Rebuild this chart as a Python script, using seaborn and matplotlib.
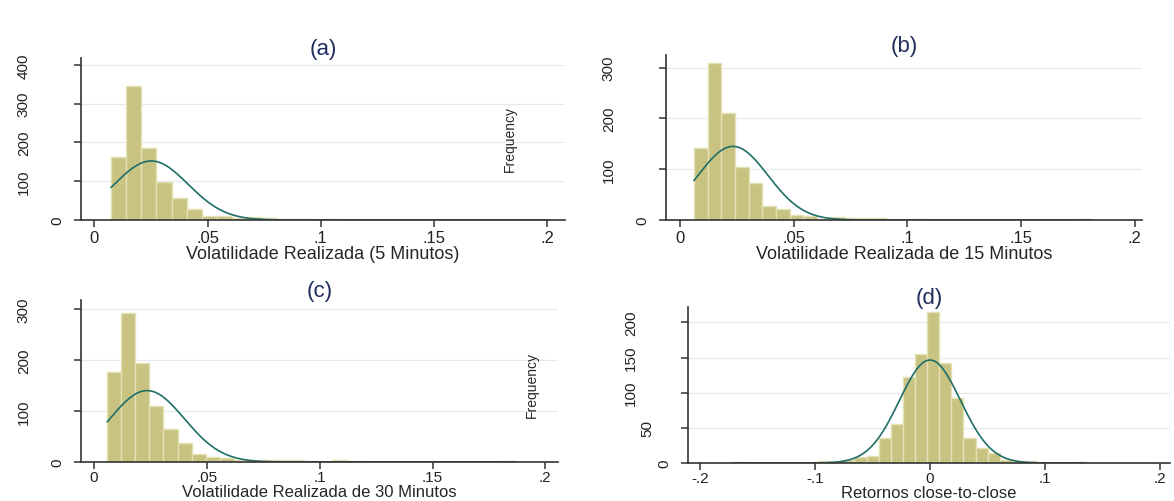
import numpy as np
import pandas as pd
import seaborn as sns
import matplotlib.pyplot as plt

sns.set_theme(style='white')
plt.rcParams['font.family'] = ['Liberation Sans', 'DejaVu Sans']

# contagens por classe (29 classes)
freq_5min = [162, 346, 187, 98, 56, 28, 11, 11, 6, 7, 4, 2, 2, 1, 2, 0, 1, 1,
             0, 1, 0, 0, 1, 0, 0, 1, 0, 0, 1]
inicio_5min, largura_5min = 0.00735, 0.00668
normal_5min = (0.0251, 0.01625)

freq_15min = [142, 309, 211, 105, 73, 27, 22, 10, 7, 2, 6, 3, 4, 4, 0, 0, 2, 0,
              0, 0, 0, 0, 0, 0, 0, 0, 0, 0, 1]
inicio_15min, largura_15min = 0.0060, 0.00603
normal_15min = (0.0232, 0.0154)

freq_30min = [177, 292, 194, 109, 65, 37, 16, 10, 7, 4, 3, 3, 3, 3, 1, 0, 3, 1,
              0, 0, 0, 0, 0, 0, 0, 0, 0, 0, 1]
inicio_30min, largura_30min = 0.0058, 0.00624
normal_30min = (0.0235, 0.0165)

freq_ret = [1, 0, 0, 0, 0, 0, 0, 3, 2, 4, 8, 10, 36, 56, 122, 155, 215, 142,
            92, 36, 21, 14, 4, 3, 3, 0, 0, 0, 1]
inicio_ret, largura_ret = -0.171, 0.01053
normal_ret = (0.0, 0.0266)

titulos = ['(a)', '(b)', '(c)', '(d)']
rotulos_x = ['Volatilidade Realizada (5 Minutos)', 'Volatilidade Realizada de 15 Minutos',
             'Volatilidade Realizada de 30 Minutos', 'Retornos close-to-close']
ticks_vol = [0, 0.05, 0.1, 0.15, 0.2]
ticks_vol_txt = ['0', '.05', '.1', '.15', '.2']
ticks_ret = [-0.2, -0.1, 0, 0.1, 0.2]
ticks_ret_txt = ['-.2', '-.1', '0', '.1', '.2']

cor_barra = '#c9c382'
cor_borda = '#e4e1b4'
cor_normal = '#1f6e68'
cor_titulo = '#1f2d5c'
cor_eixo = '#333333'

W, H = 1174, 502
fig = plt.figure(figsize=(W / 100, H / 100), dpi=100)


def novo_eixo(x0, y_topo, x1, y_base):
    return fig.add_axes([x0 / W, 1 - y_base / H, (x1 - x0) / W, (y_base - y_topo) / H])


def painel(ax, freq, inicio, largura, normal, titulo, rotulo, xt, xt_txt, yt, xlim, ylim,
           embaixo=False):
    bordas = inicio + largura * np.arange(len(freq) + 1)
    df = pd.DataFrame({'centro': bordas[:-1] + largura / 2, 'freq': freq})
    sns.histplot(data=df, x='centro', weights='freq', bins=list(bordas), ax=ax, color=cor_barra,
                 edgecolor=cor_borda, linewidth=1, alpha=1)
    media, dp = normal
    xs = np.linspace(bordas[0], bordas[-1], 400)
    ys = sum(freq) * largura * np.exp(-0.5 * ((xs - media) / dp) ** 2) / (dp * np.sqrt(2 * np.pi))
    sns.lineplot(x=xs, y=ys, ax=ax, color=cor_normal, linewidth=1.2)

    ax.set_xlim(xlim)
    ax.set_ylim(ylim)
    ax.set_xticks(xt)
    ax.set_xticklabels(xt_txt, fontsize=11 if embaixo else 12)
    yt_txt = [str(v) for v in yt]
    ax.set_yticks(yt)
    ax.set_yticklabels(yt_txt, rotation=90, va='center', fontsize=11)
    ax.yaxis.grid(True, color='#e3ebee', linewidth=0.8)
    ax.set_axisbelow(True)
    for lado in ['top', 'right']:
        ax.spines[lado].set_visible(False)
    for lado in ['left', 'bottom']:
        ax.spines[lado].set_color(cor_eixo)
        ax.spines[lado].set_linewidth(1.2)
    ax.tick_params(direction='out', length=5, width=1.1, color=cor_eixo,
                   labelcolor='#222222', bottom=True, left=True)
    ax.tick_params(axis='x', pad=1 if embaixo else 2)
    # rotulos verticais do Stata ficam mais longe do eixo quanto mais digitos
    for tick, txt in zip(ax.yaxis.get_major_ticks(), yt_txt):
        tick.set_pad(7.3 + 11.9 * (len(txt) - 1))
    ax.set_ylabel('')
    ax.set_xlabel(rotulo, fontsize=12 if embaixo else 13, labelpad=0)
    ax.set_title(titulo, fontsize=16, color=cor_titulo, pad=3)


ax_a = novo_eixo(81, 59, 565, 221)
painel(ax_a, freq_5min, inicio_5min, largura_5min, normal_5min, titulos[0], rotulos_x[0],
       ticks_vol, ticks_vol_txt, [0, 100, 200, 300, 400], (-0.0059, 0.2078), (0, 418))

ax_b = novo_eixo(666, 56, 1142, 221)
painel(ax_b, freq_15min, inicio_15min, largura_15min, normal_15min, titulos[1], rotulos_x[1],
       ticks_vol, ticks_vol_txt, [0, 100, 200, 300], (-0.0063, 0.2033), (0, 325))

ax_c = novo_eixo(81, 301, 558, 463)
painel(ax_c, freq_30min, inicio_30min, largura_30min, normal_30min, titulos[2], rotulos_x[2],
       ticks_vol, ticks_vol_txt, [0, 100, 200, 300], (-0.0058, 0.2056), (0, 318), embaixo=True)

ax_d = novo_eixo(688, 308, 1170, 464)
painel(ax_d, freq_ret, inicio_ret, largura_ret, normal_ret, titulos[3], rotulos_x[3],
       ticks_ret, ticks_ret_txt, [0, 50, 100, 150, 200], (-0.2104, 0.2087), (0, 222), embaixo=True)

fig.text(510 / W, 1 - 139 / H, 'Frequency', rotation=90, ha='center', va='center', fontsize=10)
fig.text(532 / W, 1 - 385 / H, 'Frequency', rotation=90, ha='center', va='center', fontsize=10)

fig.savefig('out.png', dpi=100)
